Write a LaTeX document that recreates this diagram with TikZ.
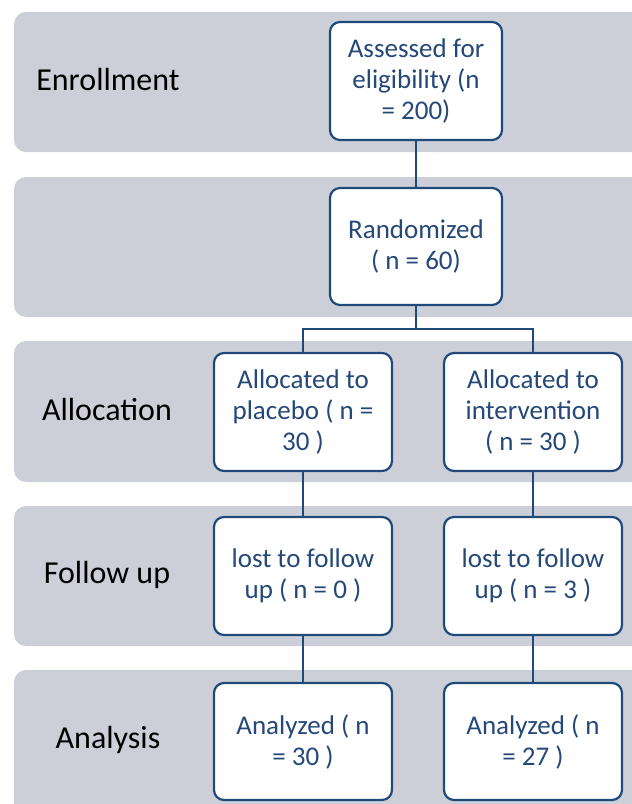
\documentclass[tikz,border=0pt]{standalone}
\usepackage{fontspec}
\setmainfont{Carlito}
\definecolor{bandfill}{RGB}{205,207,216}
\definecolor{boxblue}{RGB}{31,73,121}
\definecolor{txtblue}{RGB}{36,72,120}
\begin{document}
\begin{tikzpicture}[x=1pt,y=-1pt,
  band/.style={fill=bandfill,draw=none,rounded corners=12pt},
  stagelabel/.style={font=\fontsize{32}{36}\selectfont,text=black,anchor=center,inner sep=0pt},
  flowbox/.style={draw=boxblue,line width=2.2pt,fill=white,rounded corners=10pt,
    minimum width=176pt,minimum height=118pt,inner sep=0pt,align=center,
    text=txtblue,font=\fontsize{27}{31}\selectfont},
  link/.style={draw=boxblue,line width=2.6pt}]
\useasboundingbox (0,0) rectangle (632,804);
\begin{scope}
\clip (0,0) rectangle (632,804);
\fill[band] (14,12) rectangle (660,152);
\fill[band] (14,177) rectangle (660,317);
\fill[band] (14,341) rectangle (660,482);
\fill[band] (14,506) rectangle (660,646);
\fill[band] (14,670) rectangle (660,820);
\end{scope}
\node[stagelabel] (lenr) at (108,80) {Enrollment};
\node[stagelabel] (lall) at (107,410) {Allocation};
\node[stagelabel] (lfol) at (107,575) {Follow up};
\node[stagelabel] (lana) at (108,740) {Analysis};
\node[flowbox,minimum width=172pt] (ass) at (416,81) {Assessed for\\eligibility (n\\= 200)};
\node[flowbox,minimum width=172pt,minimum height=117pt] (ran) at (416,246.5) {Randomized\\( n = 60)};
\node[flowbox,minimum width=178pt] (alp) at (303,412) {Allocated to\\placebo ( n =\\30 )};
\node[flowbox,minimum width=178pt] (ali) at (533,412) {Allocated to\\intervention\\( n = 30 )};
\node[flowbox,minimum width=178pt] (fup) at (303,576) {lost to follow\\up ( n = 0 )};
\node[flowbox,minimum width=178pt] (fui) at (533,576) {lost to follow\\up ( n = 3 )};
\node[flowbox,minimum width=178pt,minimum height=117pt] (anp) at (303,741.5) {Analyzed ( n\\= 30 )};
\node[flowbox,minimum width=178pt,minimum height=117pt] (ani) at (533,741.5) {Analyzed ( n\\= 27 )};
\coordinate (split) at (416,329);
\begin{scope}[on background layer/.style={}]
\draw[link] (ass.south) -- (ran.north);
\draw[link] (ran.south) -- (split);
\draw[link] (alp.north) |- (split) -| (ali.north);
\draw[link] (alp.south) -- (fup.north);
\draw[link] (ali.south) -- (fui.north);
\draw[link] (fup.south) -- (anp.north);
\draw[link] (fui.south) -- (ani.north);
\end{scope}
\end{tikzpicture}
\end{document}
